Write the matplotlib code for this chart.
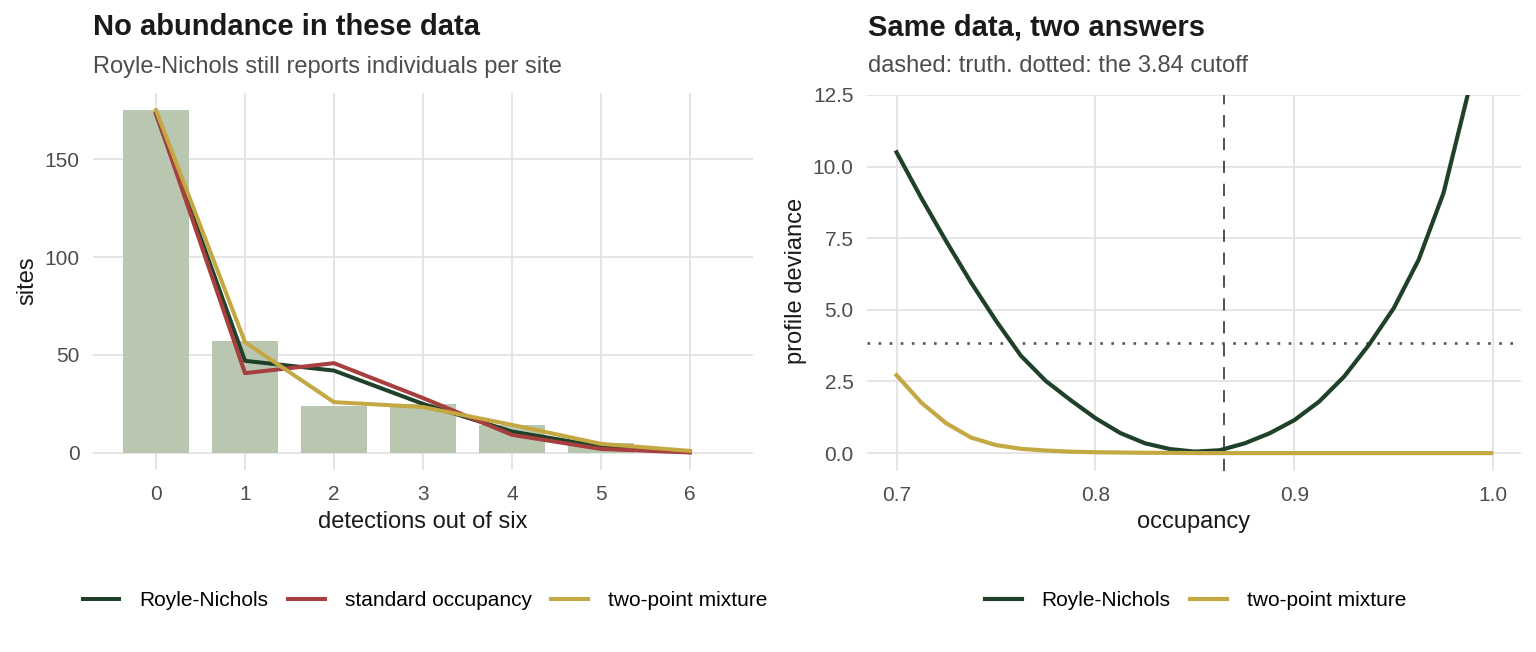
import numpy as np
import matplotlib.pyplot as plt
from matplotlib.transforms import Bbox, TransformedBbox

plt.rcParams['font.family'] = ['Liberation Sans', 'DejaVu Sans']

# left panel: detection histories
detections = [0, 1, 2, 3, 4, 5, 6]
sites_obs = [175, 57, 24, 25, 14, 5, 0]
fit_rn = [173, 47, 42, 25, 10.9, 3.2, 0.5]
fit_occ = [173.5, 40.7, 45.8, 28, 9.2, 2.0, 0.2]
fit_mix = [175, 56.5, 25.9, 23.4, 14.3, 4.6, 1.0]

# right panel: profile deviance over occupancy
occupancy = [0.7, 0.7125, 0.725, 0.7375, 0.75, 0.7625, 0.775, 0.7875, 0.8,
             0.8125, 0.825, 0.8375, 0.85, 0.8625, 0.875, 0.8875, 0.9, 0.9125,
             0.925, 0.9375, 0.95, 0.9625, 0.975, 0.9875, 0.999]
dev_rn = [10.5, 8.9, 7.39, 5.95, 4.62, 3.4, 2.52, 1.85, 1.22, 0.7, 0.34, 0.14,
          0.05, 0.1, 0.34, 0.69, 1.15, 1.8, 2.67, 3.78, 5.06, 6.75, 9.08,
          12.6, 16.5]
dev_mix = [2.72, 1.76, 1.04, 0.54, 0.28, 0.15, 0.09, 0.05, 0.03, 0.02, 0.01,
           0.01, 0.0, 0.0, 0.0, 0.0, 0.0, 0.0, 0.0, 0.0, 0.0, 0.0, 0.0, 0.0, 0.0]
truth = 0.8645
cutoff = 3.84

green = '#1f4029'
red = '#a63f3e'
gold = '#c4a843'
bar_col = '#bac7b0'
grid_col = '#e3e3e3'
tick_col = '#4d4d4d'

W, H = 1536, 652
fig = plt.figure(figsize=(W / 100, H / 100), dpi=100)

ax1 = fig.add_axes([92.6 / W, 1 - 470 / H, (753.4 - 92.6) / W, (470 - 93) / H])
ax2 = fig.add_axes([866.8 / W, 1 - 471 / H, (1521 - 866.8) / W, (471 - 95) / H])

for ax in (ax1, ax2):
    for s in ax.spines.values():
        s.set_visible(False)
    ax.grid(True, color=grid_col, lw=1.3)
    ax.set_axisbelow(True)
    ax.tick_params(length=0, labelsize=15, labelcolor=tick_col)
    ax.tick_params(axis='y', pad=9.5)
    ax.tick_params(axis='x', pad=10.5)

# left
ax1.bar(detections, sites_obs, width=0.75, color=bar_col, zorder=2)
l_rn, = ax1.plot(detections, fit_rn, color=green, lw=2.9, zorder=3, label='Royle-Nichols')
l_occ, = ax1.plot(detections, fit_occ, color=red, lw=2.9, zorder=4, label='standard occupancy')
l_mix, = ax1.plot(detections, fit_mix, color=gold, lw=2.9, zorder=5, label='two-point mixture')
ax1.set_xlim(-0.7125, 6.7125)
ax1.set_ylim(-8.75, 183.75)
ax1.set_xticks(detections)
ax1.set_yticks([0, 50, 100, 150])

# right
ax2.axvline(truth, color='#222222', lw=1.1, linestyle=(0, (8, 7)), zorder=2)
ax2.axhline(cutoff, color='#555555', lw=1.9, linestyle=(0, (1, 3.2)), zorder=2)
r_rn, = ax2.plot(occupancy, dev_rn, color=green, lw=3.0, zorder=3, label='Royle-Nichols')
r_mix, = ax2.plot(occupancy, dev_mix, color=gold, lw=3.0, zorder=4, label='two-point mixture')
ax2.set_xlim(0.68505, 1.01395)
ax2.set_ylim(-0.625, 12.5)
ax2.set_xticks([0.7, 0.8, 0.9, 1.0])
ax2.set_xticklabels(['0.7', '0.8', '0.9', '1.0'])
ax2.set_yticks([0, 2.5, 5, 7.5, 10, 12.5])
ax2.set_yticklabels(['0.0', '2.5', '5.0', '7.5', '10.0', '12.5'])

# titles
fig.text(93 / W, 1 - 35 / H, 'No abundance in these data', fontsize=21,
         fontweight='bold', color='#1a1a1a', va='baseline')
fig.text(93 / W, 1 - 72.5 / H, 'Royle-Nichols still reports individuals per site',
         fontsize=17, color=tick_col, va='baseline')
fig.text(867.5 / W, 1 - 35 / H, 'Same data, two answers', fontsize=21,
         fontweight='bold', color='#1a1a1a', va='baseline')
fig.text(867.5 / W, 1 - 72.5 / H, 'dashed: truth. dotted: the 3.84 cutoff',
         fontsize=17, color=tick_col, va='baseline')

# axis titles
fig.text(423 / W, 1 - 528 / H, 'detections out of six', fontsize=17,
         color='#1a1a1a', ha='center', va='baseline')
fig.text(1194 / W, 1 - 528 / H, 'occupancy', fontsize=17,
         color='#1a1a1a', ha='center', va='baseline')
fig.text(27 / W, 1 - 281 / H, 'sites', fontsize=17, color='#1a1a1a',
         rotation=90, ha='center', va='center')
fig.text(796 / W, 1 - 281 / H, 'profile deviance', fontsize=17, color='#1a1a1a',
         rotation=90, ha='center', va='center')

# legends
leg_kw = dict(frameon=False, fontsize=15, handlelength=1.76, handletextpad=0.95,
              columnspacing=0.95, loc='center', bbox_transform=fig.transFigure)
leg1 = fig.legend(handles=[l_rn, l_occ, l_mix], ncol=3,
                  bbox_to_anchor=(425 / W, 1 - 601 / H), **leg_kw)
leg2 = fig.legend(handles=[r_rn, r_mix], ncol=2,
                  bbox_to_anchor=(1195.5 / W, 1 - 601 / H), **leg_kw)

# left legend runs past its panel area and gets cut
clip = TransformedBbox(Bbox([[0, 0], [767 / W, 1]]), fig.transFigure)
for t in leg1.get_texts():
    t.set_clip_box(clip)
    t.set_clip_on(True)

fig.savefig('out.png', dpi=100)
